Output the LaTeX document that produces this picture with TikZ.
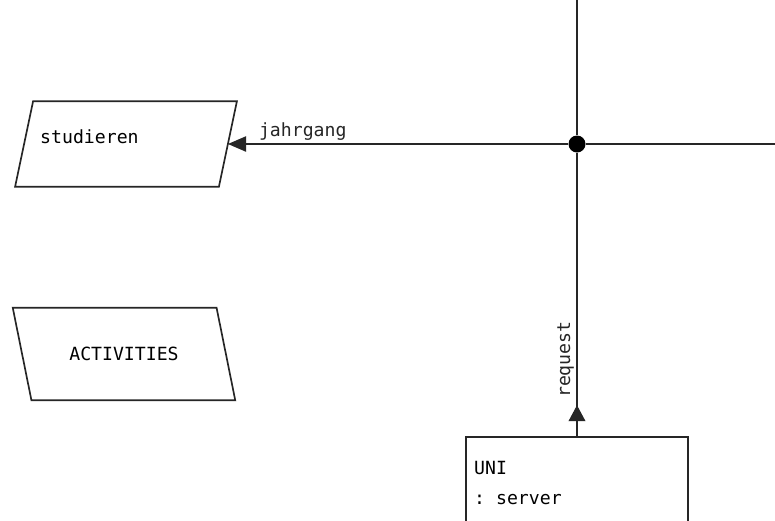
\documentclass[tikz,border=0pt]{standalone}
\usepackage{fontspec}
\setmonofont{DejaVu Sans Mono}
\usetikzlibrary{arrows.meta, positioning, decorations.markings}

\begin{document}
\begin{tikzpicture}[
    x=0.03cm, y=-0.03cm,
    every node/.style={font=\ttfamily\fontsize{15.5pt}{17pt}\selectfont},
    line/.style={line width=0.05cm, black!85},
    slot/.style={minimum width=6.1cm, inner sep=0pt},
    plain/.style={inner sep=0pt},
    tip/.style={-{Triangle[length=0.55cm, width=0.46cm]}},
]

% Frame
\clip (0,0) rectangle (775,520);
\fill[white] (0,0) rectangle (775,520);

% Junction and free ends
\node[circle, fill=black, minimum size=0.51cm, inner sep=0pt] (hub) at (577,144) {};
\coordinate (topend) at (577,0);
\coordinate (rightend) at (775,144);

% === Activities ===
\node[slot, minimum height=2.55cm] (stud) at (126,144) {};
\draw[line, line join=miter] ([xshift=0.27cm]stud.north west) -- ([xshift=0.27cm]stud.north east)
      -- ([xshift=-0.27cm]stud.south east) -- ([xshift=-0.27cm]stud.south west) -- cycle;
\node[plain, anchor=west] (studtxt) at (40,137) {studieren};

\node[slot, minimum height=2.76cm] (act) at (124,354) {ACTIVITIES};
\draw[line, line join=miter] ([xshift=-0.28cm]act.north west) -- ([xshift=-0.28cm]act.north east)
      -- ([xshift=0.28cm]act.south east) -- ([xshift=0.28cm]act.south west) -- cycle;

% === Server ===
\node[draw, line width=0.05cm, black!85, minimum width=6.66cm, minimum height=4.5cm, inner sep=0pt]
      (uni) at (577,512) {};
\node[plain, anchor=west] (unitxt) at (474,468) {UNI};
\node[plain, anchor=west] (srvtxt) at (474,500) {: server};

% === Connectors ===
\draw[line] (topend) -- (hub);
\draw[line] (hub) -- (rightend);
\draw[line, tip] (hub) -- (stud.east) node[pos=0.78, above, inner sep=2pt] {jahrgang};
\draw[line, postaction={decorate}, decoration={markings,
      mark=at position 0.93cm with {\arrow{Triangle[length=0.48cm, width=0.5cm]}}}]
      (uni.north) -- (hub) node[pos=0.27, sloped, above, inner sep=2pt] {request};

\end{tikzpicture}
\end{document}
